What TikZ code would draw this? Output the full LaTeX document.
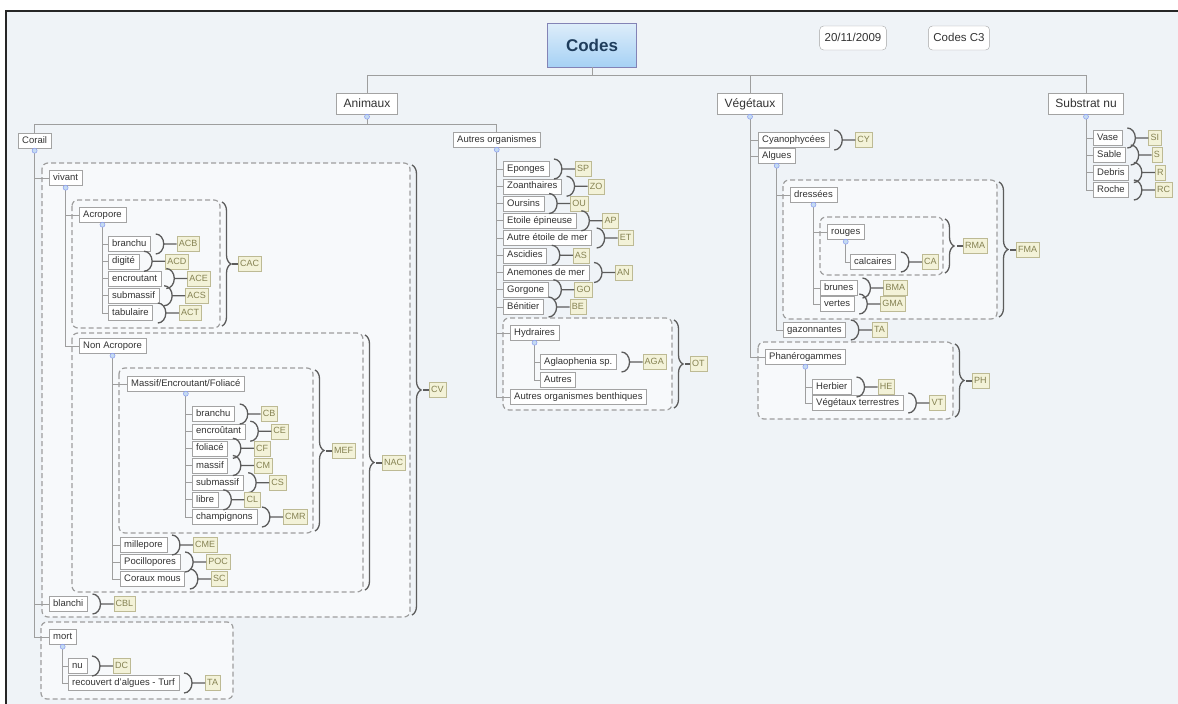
\documentclass[tikz,border=0pt]{standalone}
\usepackage{fontspec}
\setmainfont{Liberation Sans}
\usetikzlibrary{decorations.pathreplacing}

\definecolor{fond}{rgb}{0.937,0.953,0.969}
\definecolor{zone}{rgb}{0.969,0.976,0.984}
\definecolor{trait}{rgb}{0.62,0.62,0.62}
\definecolor{cadre}{rgb}{0.64,0.64,0.64}
\definecolor{texte}{rgb}{0.2,0.2,0.2}
\definecolor{codefond}{rgb}{0.953,0.949,0.847}
\definecolor{codecadre}{rgb}{0.74,0.73,0.58}
\definecolor{codetexte}{rgb}{0.52,0.51,0.32}
\definecolor{accol}{rgb}{0.36,0.36,0.36}
\definecolor{bouton}{rgb}{0.77,0.86,0.94}
\definecolor{racinehaut}{rgb}{0.87,0.93,0.98}
\definecolor{racinebas}{rgb}{0.65,0.82,0.96}
\definecolor{racinetexte}{rgb}{0.12,0.24,0.36}

\begin{document}
\begin{tikzpicture}[x=1pt, y=-1pt,
    item/.style={draw=cadre, fill=white, text=texte, anchor=west, inner xsep=4pt, inner ysep=1pt,
        minimum height=15pt, text height=7pt, text depth=2pt, font=\fontsize{9.5}{11}\selectfont},
    theme/.style={item, anchor=center, inner xsep=7pt, minimum height=21pt, text height=8.5pt,
        text depth=2.5pt, font=\fontsize{12}{14}\selectfont},
    note/.style={theme, rounded corners=4pt, inner xsep=5pt, minimum height=24pt, font=\fontsize{11.5}{13}\selectfont},
    code/.style={draw=codecadre, fill=codefond, text=codetexte, anchor=west, inner xsep=2pt, inner ysep=1pt,
        minimum height=15pt, text height=7pt, text depth=1.5pt, font=\fontsize{9}{10}\selectfont},
    tree/.style={draw=trait, line width=1pt},
    zonebox/.style={draw=trait, fill=zone, dash pattern=on 5pt off 3pt, line width=1.2pt, rounded corners=6pt},
    arcl/.style={draw=accol, line width=1.3pt},
    accolade/.style={arcl, decorate, decoration={brace, amplitude=9pt}},
    bouton/.style={fill=bouton, draw=bouton!70!blue, line width=0.5pt}]

    \useasboundingbox (0,0) rectangle (1178,704);
    \fill[white] (0,0) rectangle (1178,704);
    \fill[fond] (6,11) rectangle (1178,704);
    \draw[black!85, line width=1.5pt] (6,704) -- (6,11) -- (1178,11);

    % zones
    \draw[zonebox] (42,163) rectangle (410,617);
    \draw[zonebox] (72,200) rectangle (220,328);
    \draw[zonebox] (72,333) rectangle (363,592);
    \draw[zonebox] (119,368) rectangle (313,533);
    \draw[zonebox] (41,622) rectangle (233,699);
    \draw[zonebox] (503,318) rectangle (672,410);
    \draw[zonebox] (783,180) rectangle (997,319);
    \draw[zonebox] (820,217) rectangle (943,275);
    \draw[zonebox] (758,342) rectangle (953,419);

    % racine
    \node[draw=cadre!80!blue, top color=racinehaut, bottom color=racinebas, text=racinetexte,
        minimum width=89pt, minimum height=44pt, font=\fontsize{17}{20}\selectfont\bfseries] (codes) at (592,45) {Codes};
    \node[note] (date) at (853,38) {20/11/2009};
    \node[note] (cc3) at (959,38) {Codes C3};

    \node[theme] (ani) at (367,104) {Animaux};
    \node[theme] (veg) at (750,104) {Végétaux};
    \node[theme] (sub) at (1086,104) {Substrat nu};

    % corail
    \node[item] (corail) at (18,141) {Corail};
    \node[item] (vivant) at (49,178) {vivant};
    \node[item] (blanchi) at (49,604) {blanchi};
    \node[item] (mort) at (49,637) {mort};
    \node[item] (acro) at (79,215) {Acropore};
    \node[item] (nonacro) at (79,346) {Non Acropore};
    \node[item] (abran) at (108,244) {branchu};
    \node[item] (adigi) at (108,261.25) {digité};
    \node[item] (aencr) at (108,278.5) {encroutant};
    \node[item] (asubm) at (108,295.75) {submassif};
    \node[item] (atabu) at (108,313) {tabulaire};
    \node[item] (mef) at (127,384) {Massif/Encroutant/Foliacé};
    \node[item] (mill) at (120,545) {millepore};
    \node[item] (poci) at (120,562) {Pocillopores};
    \node[item] (cmou) at (120,579) {Coraux mous};
    \node[item] (nbran) at (192,414) {branchu};
    \node[item] (nencr) at (192,431.2) {encroûtant};
    \node[item] (nfoli) at (192,448.3) {foliacé};
    \node[item] (nmass) at (192,465.5) {massif};
    \node[item] (nsubm) at (192,482.7) {submassif};
    \node[item] (nlibr) at (192,499.8) {libre};
    \node[item] (nchamp) at (192,517) {champignons};
    \node[item] (nu) at (68,666) {nu};
    \node[item] (turf) at (68,683) {recouvert d'algues - Turf};

    % autres organismes
    \node[item] (autres) at (453,140) {Autres organismes};
    \node[item] (epon) at (503,169) {Eponges};
    \node[item] (zoan) at (503,186.25) {Zoanthaires};
    \node[item] (ours) at (503,203.5) {Oursins};
    \node[item] (etep) at (503,220.75) {Etoile épineuse};
    \node[item] (etmer) at (503,238) {Autre étoile de mer};
    \node[item] (asci) at (503,255.25) {Ascidies};
    \node[item] (anem) at (503,272.5) {Anemones de mer};
    \node[item] (gorg) at (503,289.75) {Gorgone};
    \node[item] (beni) at (503,307) {Bénitier};
    \node[item] (hydr) at (510,333) {Hydraires};
    \node[item] (agla) at (540,362) {Aglaophenia sp.};
    \node[item] (hautr) at (540,380) {Autres};
    \node[item] (benth) at (510,397) {Autres organismes benthiques};

    % vegetaux
    \node[item] (cyan) at (758,140) {Cyanophycées};
    \node[item] (algu) at (758,156) {Algues};
    \node[item] (dres) at (790,195) {dressées};
    \node[item] (roug) at (827,232) {rouges};
    \node[item] (calc) at (850,262) {calcaires};
    \node[item] (brun) at (820,288) {brunes};
    \node[item] (vert) at (820,304) {vertes};
    \node[item] (gazo) at (783,330) {gazonnantes};
    \node[item] (phan) at (765,357) {Phanérogammes};
    \node[item] (herb) at (812,387) {Herbier};
    \node[item] (vter) at (812,403) {Végétaux terrestres};

    % substrat
    \node[item] (vase) at (1093,138) {Vase};
    \node[item] (sabl) at (1093,155) {Sable};
    \node[item] (debr) at (1093,172.5) {Debris};
    \node[item] (roch) at (1093,190) {Roche};

    % liens
    \draw[tree] (codes.south) -- ++(0,8) -| (ani.north);
    \draw[tree] (codes.south) -- ++(0,8) -| (veg.north);
    \draw[tree] (codes.south) -- ++(0,8) -| (sub.north);
    \draw[tree] (ani.south) -- ++(0,10) -| (corail.north);
    \draw[tree] (ani.south) -- ++(0,10) -| (autres.north);
    \draw[tree] (corail.south) |- (vivant.west);
    \draw[tree] (corail.south) |- (blanchi.west);
    \draw[tree] (corail.south) |- (mort.west);
    \draw[tree] (vivant.south) |- (acro.west);
    \draw[tree] (vivant.south) |- (nonacro.west);
    \draw[tree] (acro.south) |- (abran.west);
    \draw[tree] (acro.south) |- (adigi.west);
    \draw[tree] (acro.south) |- (aencr.west);
    \draw[tree] (acro.south) |- (asubm.west);
    \draw[tree] (acro.south) |- (atabu.west);
    \draw[tree] (nonacro.south) |- (mef.west);
    \draw[tree] (nonacro.south) |- (mill.west);
    \draw[tree] (nonacro.south) |- (poci.west);
    \draw[tree] (nonacro.south) |- (cmou.west);
    \draw[tree] (mef.south) |- (nbran.west);
    \draw[tree] (mef.south) |- (nencr.west);
    \draw[tree] (mef.south) |- (nfoli.west);
    \draw[tree] (mef.south) |- (nmass.west);
    \draw[tree] (mef.south) |- (nsubm.west);
    \draw[tree] (mef.south) |- (nlibr.west);
    \draw[tree] (mef.south) |- (nchamp.west);
    \draw[tree] (mort.south) |- (nu.west);
    \draw[tree] (mort.south) |- (turf.west);
    \draw[tree] (autres.south) |- (epon.west);
    \draw[tree] (autres.south) |- (zoan.west);
    \draw[tree] (autres.south) |- (ours.west);
    \draw[tree] (autres.south) |- (etep.west);
    \draw[tree] (autres.south) |- (etmer.west);
    \draw[tree] (autres.south) |- (asci.west);
    \draw[tree] (autres.south) |- (anem.west);
    \draw[tree] (autres.south) |- (gorg.west);
    \draw[tree] (autres.south) |- (beni.west);
    \draw[tree] (autres.south) |- (hydr.west);
    \draw[tree] (autres.south) |- (benth.west);
    \draw[tree] (hydr.south) |- (agla.west);
    \draw[tree] (hydr.south) |- (hautr.west);
    \draw[tree] (veg.south) |- (cyan.west);
    \draw[tree] (veg.south) |- (algu.west);
    \draw[tree] (veg.south) |- (phan.west);
    \draw[tree] (algu.south) |- (dres.west);
    \draw[tree] (algu.south) |- (gazo.west);
    \draw[tree] (dres.south) |- (roug.west);
    \draw[tree] (dres.south) |- (brun.west);
    \draw[tree] (dres.south) |- (vert.west);
    \draw[tree] (roug.south) |- (calc.west);
    \draw[tree] (phan.south) |- (herb.west);
    \draw[tree] (phan.south) |- (vter.west);
    \draw[tree] (sub.south) |- (vase.west);
    \draw[tree] (sub.south) |- (sabl.west);
    \draw[tree] (sub.south) |- (debr.west);
    \draw[tree] (sub.south) |- (roch.west);

    % boutons
    \filldraw[bouton] ([yshift=-2pt]ani.south) circle (2.5pt);
    \filldraw[bouton] ([yshift=-2pt]veg.south) circle (2.5pt);
    \filldraw[bouton] ([yshift=-2pt]sub.south) circle (2.5pt);
    \filldraw[bouton] ([yshift=-2pt]corail.south) circle (2.5pt);
    \filldraw[bouton] ([yshift=-2pt]vivant.south) circle (2.5pt);
    \filldraw[bouton] ([yshift=-2pt]acro.south) circle (2.5pt);
    \filldraw[bouton] ([yshift=-2pt]nonacro.south) circle (2.5pt);
    \filldraw[bouton] ([yshift=-2pt]mef.south) circle (2.5pt);
    \filldraw[bouton] ([yshift=-2pt]mort.south) circle (2.5pt);
    \filldraw[bouton] ([yshift=-2pt]autres.south) circle (2.5pt);
    \filldraw[bouton] ([yshift=-2pt]hydr.south) circle (2.5pt);
    \filldraw[bouton] ([yshift=-2pt]algu.south) circle (2.5pt);
    \filldraw[bouton] ([yshift=-2pt]dres.south) circle (2.5pt);
    \filldraw[bouton] ([yshift=-2pt]roug.south) circle (2.5pt);
    \filldraw[bouton] ([yshift=-2pt]phan.south) circle (2.5pt);

    % codes
    \node[code] (acb) at ([xshift=26pt]abran.east) {ACB};
    \draw[arcl] ([xshift=5pt,yshift=10pt]abran.east) arc[start angle=90, end angle=-90, x radius=8pt, y radius=10pt] ([xshift=13pt]abran.east) -- (acb.west);
    \node[code] (acd) at ([xshift=26pt]adigi.east) {ACD};
    \draw[arcl] ([xshift=5pt,yshift=10pt]adigi.east) arc[start angle=90, end angle=-90, x radius=8pt, y radius=10pt] ([xshift=13pt]adigi.east) -- (acd.west);
    \node[code] (ace) at ([xshift=26pt]aencr.east) {ACE};
    \draw[arcl] ([xshift=5pt,yshift=10pt]aencr.east) arc[start angle=90, end angle=-90, x radius=8pt, y radius=10pt] ([xshift=13pt]aencr.east) -- (ace.west);
    \node[code] (acs) at ([xshift=26pt]asubm.east) {ACS};
    \draw[arcl] ([xshift=5pt,yshift=10pt]asubm.east) arc[start angle=90, end angle=-90, x radius=8pt, y radius=10pt] ([xshift=13pt]asubm.east) -- (acs.west);
    \node[code] (act) at ([xshift=26pt]atabu.east) {ACT};
    \draw[arcl] ([xshift=5pt,yshift=10pt]atabu.east) arc[start angle=90, end angle=-90, x radius=8pt, y radius=10pt] ([xshift=13pt]atabu.east) -- (act.west);
    \node[code] (cb) at ([xshift=26pt]nbran.east) {CB};
    \draw[arcl] ([xshift=5pt,yshift=10pt]nbran.east) arc[start angle=90, end angle=-90, x radius=8pt, y radius=10pt] ([xshift=13pt]nbran.east) -- (cb.west);
    \node[code] (ce) at ([xshift=26pt]nencr.east) {CE};
    \draw[arcl] ([xshift=5pt,yshift=10pt]nencr.east) arc[start angle=90, end angle=-90, x radius=8pt, y radius=10pt] ([xshift=13pt]nencr.east) -- (ce.west);
    \node[code] (cf) at ([xshift=26pt]nfoli.east) {CF};
    \draw[arcl] ([xshift=5pt,yshift=10pt]nfoli.east) arc[start angle=90, end angle=-90, x radius=8pt, y radius=10pt] ([xshift=13pt]nfoli.east) -- (cf.west);
    \node[code] (cm) at ([xshift=26pt]nmass.east) {CM};
    \draw[arcl] ([xshift=5pt,yshift=10pt]nmass.east) arc[start angle=90, end angle=-90, x radius=8pt, y radius=10pt] ([xshift=13pt]nmass.east) -- (cm.west);
    \node[code] (cs) at ([xshift=26pt]nsubm.east) {CS};
    \draw[arcl] ([xshift=5pt,yshift=10pt]nsubm.east) arc[start angle=90, end angle=-90, x radius=8pt, y radius=10pt] ([xshift=13pt]nsubm.east) -- (cs.west);
    \node[code] (cl) at ([xshift=26pt]nlibr.east) {CL};
    \draw[arcl] ([xshift=5pt,yshift=10pt]nlibr.east) arc[start angle=90, end angle=-90, x radius=8pt, y radius=10pt] ([xshift=13pt]nlibr.east) -- (cl.west);
    \node[code] (cmr) at ([xshift=26pt]nchamp.east) {CMR};
    \draw[arcl] ([xshift=5pt,yshift=10pt]nchamp.east) arc[start angle=90, end angle=-90, x radius=8pt, y radius=10pt] ([xshift=13pt]nchamp.east) -- (cmr.west);
    \node[code] (cme) at ([xshift=26pt]mill.east) {CME};
    \draw[arcl] ([xshift=5pt,yshift=10pt]mill.east) arc[start angle=90, end angle=-90, x radius=8pt, y radius=10pt] ([xshift=13pt]mill.east) -- (cme.west);
    \node[code] (poc) at ([xshift=26pt]poci.east) {POC};
    \draw[arcl] ([xshift=5pt,yshift=10pt]poci.east) arc[start angle=90, end angle=-90, x radius=8pt, y radius=10pt] ([xshift=13pt]poci.east) -- (poc.west);
    \node[code] (sc) at ([xshift=26pt]cmou.east) {SC};
    \draw[arcl] ([xshift=5pt,yshift=10pt]cmou.east) arc[start angle=90, end angle=-90, x radius=8pt, y radius=10pt] ([xshift=13pt]cmou.east) -- (sc.west);
    \node[code] (cbl) at ([xshift=26pt]blanchi.east) {CBL};
    \draw[arcl] ([xshift=5pt,yshift=10pt]blanchi.east) arc[start angle=90, end angle=-90, x radius=8pt, y radius=10pt] ([xshift=13pt]blanchi.east) -- (cbl.west);
    \node[code] (dc) at ([xshift=26pt]nu.east) {DC};
    \draw[arcl] ([xshift=5pt,yshift=10pt]nu.east) arc[start angle=90, end angle=-90, x radius=8pt, y radius=10pt] ([xshift=13pt]nu.east) -- (dc.west);
    \node[code] (taturf) at ([xshift=26pt]turf.east) {TA};
    \draw[arcl] ([xshift=5pt,yshift=10pt]turf.east) arc[start angle=90, end angle=-90, x radius=8pt, y radius=10pt] ([xshift=13pt]turf.east) -- (taturf.west);

    \node[code] (sp) at ([xshift=26pt]epon.east) {SP};
    \draw[arcl] ([xshift=5pt,yshift=10pt]epon.east) arc[start angle=90, end angle=-90, x radius=8pt, y radius=10pt] ([xshift=13pt]epon.east) -- (sp.west);
    \node[code] (zo) at ([xshift=26pt]zoan.east) {ZO};
    \draw[arcl] ([xshift=5pt,yshift=10pt]zoan.east) arc[start angle=90, end angle=-90, x radius=8pt, y radius=10pt] ([xshift=13pt]zoan.east) -- (zo.west);
    \node[code] (ou) at ([xshift=26pt]ours.east) {OU};
    \draw[arcl] ([xshift=5pt,yshift=10pt]ours.east) arc[start angle=90, end angle=-90, x radius=8pt, y radius=10pt] ([xshift=13pt]ours.east) -- (ou.west);
    \node[code] (ap) at ([xshift=26pt]etep.east) {AP};
    \draw[arcl] ([xshift=5pt,yshift=10pt]etep.east) arc[start angle=90, end angle=-90, x radius=8pt, y radius=10pt] ([xshift=13pt]etep.east) -- (ap.west);
    \node[code] (et) at ([xshift=26pt]etmer.east) {ET};
    \draw[arcl] ([xshift=5pt,yshift=10pt]etmer.east) arc[start angle=90, end angle=-90, x radius=8pt, y radius=10pt] ([xshift=13pt]etmer.east) -- (et.west);
    \node[code] (ascod) at ([xshift=26pt]asci.east) {AS};
    \draw[arcl] ([xshift=5pt,yshift=10pt]asci.east) arc[start angle=90, end angle=-90, x radius=8pt, y radius=10pt] ([xshift=13pt]asci.east) -- (ascod.west);
    \node[code] (an) at ([xshift=26pt]anem.east) {AN};
    \draw[arcl] ([xshift=5pt,yshift=10pt]anem.east) arc[start angle=90, end angle=-90, x radius=8pt, y radius=10pt] ([xshift=13pt]anem.east) -- (an.west);
    \node[code] (go) at ([xshift=26pt]gorg.east) {GO};
    \draw[arcl] ([xshift=5pt,yshift=10pt]gorg.east) arc[start angle=90, end angle=-90, x radius=8pt, y radius=10pt] ([xshift=13pt]gorg.east) -- (go.west);
    \node[code] (be) at ([xshift=26pt]beni.east) {BE};
    \draw[arcl] ([xshift=5pt,yshift=10pt]beni.east) arc[start angle=90, end angle=-90, x radius=8pt, y radius=10pt] ([xshift=13pt]beni.east) -- (be.west);
    \node[code] (aga) at ([xshift=26pt]agla.east) {AGA};
    \draw[arcl] ([xshift=5pt,yshift=10pt]agla.east) arc[start angle=90, end angle=-90, x radius=8pt, y radius=10pt] ([xshift=13pt]agla.east) -- (aga.west);

    \node[code] (cy) at ([xshift=26pt]cyan.east) {CY};
    \draw[arcl] ([xshift=5pt,yshift=10pt]cyan.east) arc[start angle=90, end angle=-90, x radius=8pt, y radius=10pt] ([xshift=13pt]cyan.east) -- (cy.west);
    \node[code] (ca) at ([xshift=26pt]calc.east) {CA};
    \draw[arcl] ([xshift=5pt,yshift=10pt]calc.east) arc[start angle=90, end angle=-90, x radius=8pt, y radius=10pt] ([xshift=13pt]calc.east) -- (ca.west);
    \node[code] (bma) at ([xshift=26pt]brun.east) {BMA};
    \draw[arcl] ([xshift=5pt,yshift=10pt]brun.east) arc[start angle=90, end angle=-90, x radius=8pt, y radius=10pt] ([xshift=13pt]brun.east) -- (bma.west);
    \node[code] (gma) at ([xshift=26pt]vert.east) {GMA};
    \draw[arcl] ([xshift=5pt,yshift=10pt]vert.east) arc[start angle=90, end angle=-90, x radius=8pt, y radius=10pt] ([xshift=13pt]vert.east) -- (gma.west);
    \node[code] (tagaz) at ([xshift=26pt]gazo.east) {TA};
    \draw[arcl] ([xshift=5pt,yshift=10pt]gazo.east) arc[start angle=90, end angle=-90, x radius=8pt, y radius=10pt] ([xshift=13pt]gazo.east) -- (tagaz.west);
    \node[code] (he) at ([xshift=26pt]herb.east) {HE};
    \draw[arcl] ([xshift=5pt,yshift=10pt]herb.east) arc[start angle=90, end angle=-90, x radius=8pt, y radius=10pt] ([xshift=13pt]herb.east) -- (he.west);
    \node[code] (vt) at ([xshift=26pt]vter.east) {VT};
    \draw[arcl] ([xshift=5pt,yshift=10pt]vter.east) arc[start angle=90, end angle=-90, x radius=8pt, y radius=10pt] ([xshift=13pt]vter.east) -- (vt.west);

    \node[code] (si) at ([xshift=26pt]vase.east) {SI};
    \draw[arcl] ([xshift=5pt,yshift=10pt]vase.east) arc[start angle=90, end angle=-90, x radius=8pt, y radius=10pt] ([xshift=13pt]vase.east) -- (si.west);
    \node[code] (scod) at ([xshift=26pt]sabl.east) {S};
    \draw[arcl] ([xshift=5pt,yshift=10pt]sabl.east) arc[start angle=90, end angle=-90, x radius=8pt, y radius=10pt] ([xshift=13pt]sabl.east) -- (scod.west);
    \node[code] (rcod) at ([xshift=26pt]debr.east) {R};
    \draw[arcl] ([xshift=5pt,yshift=10pt]debr.east) arc[start angle=90, end angle=-90, x radius=8pt, y radius=10pt] ([xshift=13pt]debr.east) -- (rcod.west);
    \node[code] (rc) at ([xshift=26pt]roch.east) {RC};
    \draw[arcl] ([xshift=5pt,yshift=10pt]roch.east) arc[start angle=90, end angle=-90, x radius=8pt, y radius=10pt] ([xshift=13pt]roch.east) -- (rc.west);

    % accolades des zones
    \draw[accolade] (222,202) -- (222,326);
    \node[code] (cac) at (238,264) {CAC};
    \draw[arcl] (cac.west) -- ++(-6,0);
    \draw[accolade] (315,370) -- (315,531);
    \node[code] (mefc) at (332,451) {MEF};
    \draw[arcl] (mefc.west) -- ++(-6,0);
    \draw[accolade] (365,335) -- (365,590);
    \node[code] (nac) at (382,463) {NAC};
    \draw[arcl] (nac.west) -- ++(-6,0);
    \draw[accolade] (412,165) -- (412,615);
    \node[code] (cv) at (429,390) {CV};
    \draw[arcl] (cv.west) -- ++(-6,0);
    \draw[accolade] (674,320) -- (674,408);
    \node[code] (ot) at (690,364) {OT};
    \draw[arcl] (ot.west) -- ++(-5,0);
    \draw[accolade] (945,219) -- (945,273);
    \node[code] (rma) at (963,246) {RMA};
    \draw[arcl] (rma.west) -- ++(-6,0);
    \draw[accolade] (999,182) -- (999,317);
    \node[code] (fma) at (1016,250) {FMA};
    \draw[arcl] (fma.west) -- ++(-6,0);
    \draw[accolade] (955,344) -- (955,417);
    \node[code] (ph) at (972,381) {PH};
    \draw[arcl] (ph.west) -- ++(-6,0);
\end{tikzpicture}
\end{document}
